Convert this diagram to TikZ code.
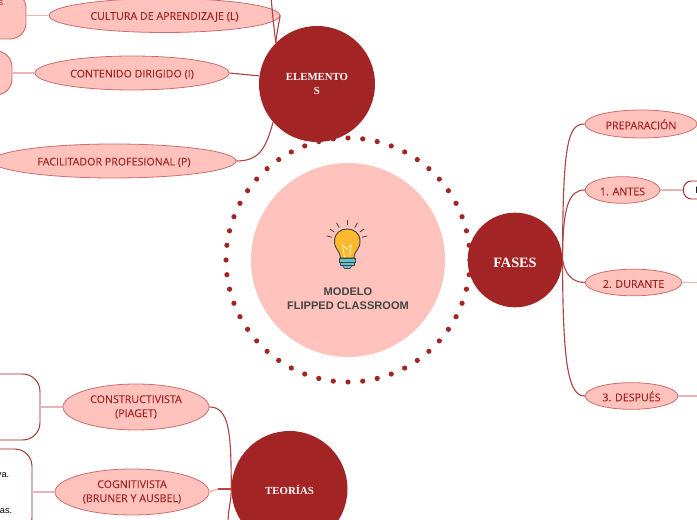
\documentclass[tikz,border=0pt]{standalone}
\usepackage{fontspec}
\setmainfont{Open Sans}
\newfontfamily\leaffont{Open Sans}[FakeBold=0.12]
\newfontfamily\headfont{Liberation Serif}
\newfontfamily\bodyfont{Liberation Sans}
\usetikzlibrary{shapes.geometric,calc}
\definecolor{darkred}{HTML}{A32424}
\definecolor{softpink}{HTML}{FFC2BC}
\definecolor{rimred}{HTML}{CC6E6E}
\definecolor{palered}{HTML}{E8B4B4}
\definecolor{bulbyellow}{HTML}{FDBA2C}
\definecolor{bulbteal}{HTML}{5CC6D0}
\definecolor{bulbline}{HTML}{444444}
\tikzset{
  hub/.style={circle,fill=darkred,text=white,inner sep=0,align=center,execute at begin node=\rule{0pt}{8pt},font=\headfont\bfseries\fontsize{8.1}{10.5}\selectfont},
  leaf/.style={ellipse,draw=rimred,fill=softpink,text=darkred,inner sep=0,align=center,line width=.6pt,execute at begin node=\rule{0pt}{8pt},font=\leaffont\fontsize{8}{10.5}\selectfont},
  phase/.style={leaf,execute at begin node=\rule{0pt}{6pt},minimum height=20pt},
  pinkbox/.style={rectangle,rounded corners=12pt,draw=rimred,fill=softpink,line width=.7pt},
  whitebox/.style={rectangle,rounded corners=13pt,draw=darkred,fill=white,line width=.7pt},
  link/.style={draw=darkred!85!white,line width=.85pt},
  twig/.style={draw=palered,line width=1pt},
  bodytext/.style={font=\bodyfont\fontsize{6.9}{8}\selectfont,text=black,inner sep=0}
}
\begin{document}
\begin{tikzpicture}[x=.75pt,y=-.75pt]
  \clip (0,0) rectangle (697,520);
  % centre
  \node[circle,fill=softpink,minimum size=145.5pt,inner sep=0] (centro) at (348,260) {};
  \foreach \k in {0,...,51}
    \fill[darkred] ($(centro.center)+(90+\k*6.9231:122)$) circle (2.6);
  \node[font=\bodyfont\bfseries\fontsize{8.3}{10.5}\selectfont,text=bulbline,align=center,inner sep=0] (titulo) at (348,299) {MODELO\\FLIPPED CLASSROOM};
  % bulb
  \fill[bulbyellow,draw=bulbline,line width=.7pt] (340.5,258) .. controls (340,250) and (334.5,250) .. (334.5,241) .. controls (334.5,225) and (360,225) .. (360,241) .. controls (360,250) and (354.5,250) .. (354,258) -- cycle;
  \draw[white,line width=.4pt] (344.5,257) -- (342.5,245) -- (347,249) -- (351.5,245) -- (349.5,257);
  \fill[bulbteal,draw=bulbline,line width=.5pt] (339.5,258.5) rectangle (355,262);
  \fill[bulbteal,draw=bulbline,line width=.5pt] (340.5,262) rectangle (354,265.5);
  \fill[bulbteal,draw=bulbline,line width=.5pt] (342.5,265.5) -- (352,265.5) -- (350,268.5) -- (344.5,268.5) -- cycle;
  \foreach \ang in {14,35,60,90,120,145,166}
    \draw[bulbline,line width=.6pt] ($(347,241)+(\ang:-15.5)$) -- ($(347,241)+(\ang:-21)$);
  % hubs
  \node[hub,minimum size=87pt,execute at begin node=\rule{0pt}{10pt}] (elementos) at (317,84) {ELEMENTO\\S};
  \node[hub,minimum size=71pt,execute at begin node=\rule{0pt}{11pt},font=\headfont\bfseries\fontsize{10.7}{12}\selectfont] (fases) at (515,260) {FASES};
  \node[hub,minimum size=87pt] (teorias) at (289.5,489) {TEORÍAS};
  % left boxes
  \node[pinkbox,minimum width=49.5pt,minimum height=35.25pt] (caja1) at (-7,15.5) {};
  \node[pinkbox,minimum width=55.5pt,minimum height=33pt] (caja2) at (-25,73) {};
  \node[whitebox,minimum width=105pt,minimum height=49.5pt] (caja3) at (-30,407) {};
  \node[whitebox,minimum width=93pt,minimum height=64.5pt] (caja4) at (-30,492) {};
  \node[inner sep=0,text=darkred,font=\fontsize{6.9}{8}\selectfont] (nota1) at (1,3) {s};
  \node[bodytext,anchor=east] (nota2) at (9.5,475) {va.};
  \node[bodytext,anchor=east] (nota3) at (12.5,511) {as.};
  % right box
  \node[whitebox,rounded corners=6pt,anchor=west,minimum width=30pt,minimum height=13.5pt] (caja5) at (683,190) {};
  \node[inner sep=0,font=\bodyfont\fontsize{6.9}{8}\selectfont,anchor=west] (nota4) at (695,190) {F};
  % ovals
  \node[leaf,minimum width=173pt,minimum height=25.5pt] (cultura) at (164.5,15.5) {CULTURA DE APRENDIZAJE (L)};
  \node[leaf,minimum width=145.5pt,minimum height=25.5pt] (contenido) at (132,73) {CONTENIDO DIRIGIDO (I)};
  \node[leaf,minimum width=183pt,minimum height=25.5pt] (facilitador) at (114,161) {FACILITADOR PROFESIONAL (P)};
  \node[phase,minimum width=84pt,minimum height=21pt] (preparacion) at (641,124) {PREPARACIÓN};
  \node[phase,minimum width=56pt] (antes) at (622.5,190) {1. ANTES};
  \node[phase,minimum width=72.5pt] (durante) at (633.5,282.5) {2. DURANTE};
  \node[phase,minimum width=69.5pt] (despues) at (631.5,396) {3. DESPUÉS};
  \node[leaf,minimum width=109.5pt,minimum height=34.5pt] (constructivista) at (136,407) {CONSTRUCTIVISTA\\(PIAGET)};
  \node[leaf,minimum width=115.5pt,minimum height=34.5pt] (cognitivista) at (132,492) {COGNITIVISTA\\(BRUNER Y AUSBEL)};
  % free ends
  \coordinate (arriba) at (271,-3);
  \coordinate (abajo) at (228,523);
  \coordinate (salida1) at (700,282.5);
  \coordinate (salida2) at (700,396);
  \coordinate (codo) at (218,489);
  % connectors
  \draw[twig] (cultura.west) -- (caja1.east) (contenido.west) -- (caja2.east)
    (constructivista.west) -- (caja3.east) (cognitivista.west) -- (caja4.east)
    (antes.east) -- (caja5.west) (durante.east) -- (salida1) (despues.east) -- (salida2);
  \draw[link] (elementos.172) edge (contenido.east)
    (elementos.221) edge[out=255,in=0,out distance=22pt,in distance=16pt] (facilitador.east)
    (elementos.135) edge[out=85,in=-100,out distance=6pt,in distance=6pt] (cultura.east)
    (elementos.135) edge[out=97,in=-85] (arriba);
  \draw[link] (fases.east) edge[out=90,in=180,out distance=90pt,in distance=12pt] (preparacion.west)
    (fases.east) edge[out=90,in=180,out distance=40pt,in distance=12pt] (antes.west)
    (fases.east) edge[out=-80,in=180,out distance=10pt,in distance=10pt] (durante.west)
    (fases.east) edge[out=-90,in=180,out distance=80pt,in distance=12pt] (despues.west);
  \draw[link] (teorias.west) edge[out=90,in=0,out distance=42pt,in distance=15pt] (constructivista.east)
    (teorias.west) edge[out=-90,in=90] (abajo);
  \draw[link,line width=1.4pt] (teorias.west) -- (codo);
  \draw[twig] (codo) -- (cognitivista.east);
\end{tikzpicture}
\end{document}
